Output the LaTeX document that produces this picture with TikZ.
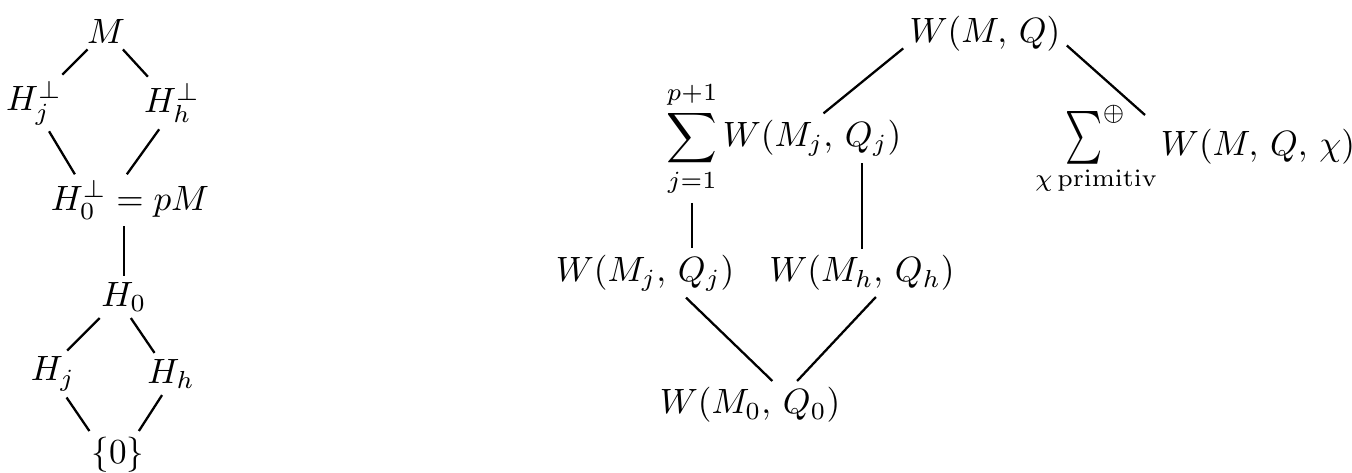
\documentclass[tikz,border=0pt]{standalone}
\usetikzlibrary{calc}
\begin{document}
\begin{tikzpicture}[x=0.01cm,y=-0.01cm,line width=0.65pt,every node/.style={inner sep=1.5pt}]
\useasboundingbox (0,0) rectangle (1352,473);
% left lattice
\node (M) at (106,31) {$M$};
\node (Hjp) at (34,103) {$H_j^\perp$};
\node (Hhp) at (172,103) {$H_h^\perp$};
\node (H0p) at (130,200) {$H_0^\perp = pM$};
\node (H0) at (124,297) {$H_0$};
\node (Hj) at (53,374) {$H_j$};
\node (Hh) at (171,374) {$H_h$};
\node (Zero) at (118,455) {$\{0\}$};
\draw (M) -- (Hjp); \draw (M) -- (Hhp);
\draw (Hjp.-62) -- (H0p.155); \draw (Hhp.244) -- (H0p.97);
\draw (H0.north) -- (H0.north |- H0p.south);
\draw (H0.221) -- (Hj.59); \draw (H0.-72) -- (Hh.128);
\draw (Hj.-60) -- (Zero.140); \draw (Hh.247) -- (Zero.49);
% right lattice
\node (WMQ) at (985,34) {$W(M,\,Q)$};
\node (sumj) at (692,139) {$\displaystyle\sum_{j=1}^{p+1}$};
\node (Wj) at (812,138) {$W(M_j,\,Q_j)$};
\node (sumchi) at (1096,150) {$\displaystyle\mathop{{\vcenter{\hbox{\scalebox{1}[1.5]{$\textstyle\sum$}}}}^{\oplus}}_{\chi\,\mathrm{primitiv}}$};
\node (Wchi) at (1258,147) {$W(M,\,Q,\,\chi)$};
\node (Wjb) at (645,273) {$W(M_j,\,Q_j)$};
\node (Wh) at (862,273) {$W(M_h,\,Q_h)$};
\node (W0) at (750,405) {$W(M_0,\,Q_0)$};
\draw (WMQ.190) -- (Wj.65);
\draw (WMQ.-8) -- ($(sumchi)+(49,-35)$);
\draw (sumj.south) -- (sumj.south |- Wjb.north);
\draw (Wh.north) -- (Wh.north |- Wj.south);
\draw (Wjb.-31) -- (W0.47);
\draw (Wh.-60) -- (W0.27);
\end{tikzpicture}
\end{document}
